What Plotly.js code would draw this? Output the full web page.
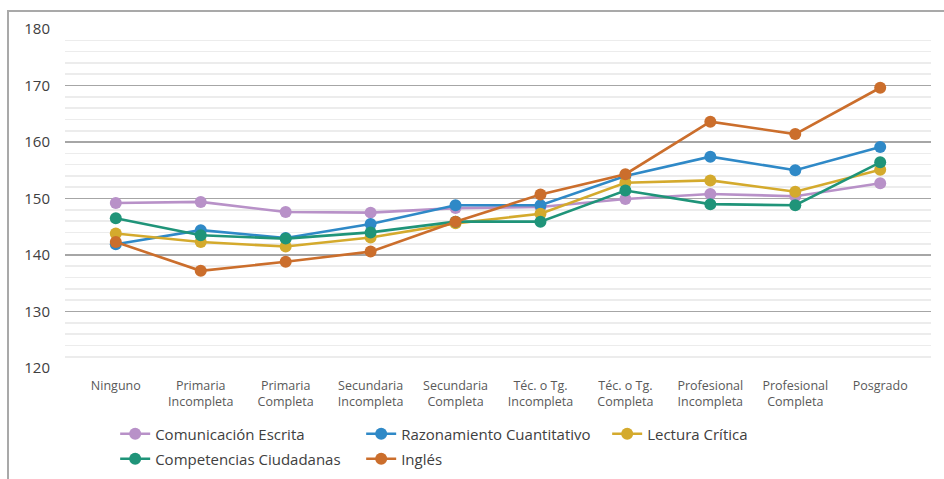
<!DOCTYPE html>
<html>
<head>
<meta charset="utf-8">
<script src="https://cdn.plot.ly/plotly-3.0.1.min.js"></script>
<style>
  html, body { margin: 0; padding: 0; background: #fff; }
  #wrap { position: relative; width: 944px; height: 479px; overflow: hidden; }
  #chart { width: 944px; height: 479px; }
  #frame { position: absolute; left: 7px; top: 10px; width: 1000px; height: 600px;
           border-left: 2px solid #a9a9a9; border-top: 2px solid #a9a9a9; pointer-events: none; }
</style>
</head>
<body>
<div id="wrap"><div id="chart"></div><div id="frame"></div></div>
<script>
const categories = [
  "Ninguno", "Primaria<br>Incompleta", "Primaria<br>Completa", "Secundaria<br>Incompleta",
  "Secundaria<br>Completa", "Téc. o Tg.<br>Incompleta", "Téc. o Tg.<br>Completa",
  "Profesional<br>Incompleta", "Profesional<br>Completa", "Posgrado"
];
const comunicacionEscrita      = [149.2, 149.4, 147.6, 147.5, 148.3, 148.5, 149.9, 150.8, 150.4, 152.7];
const razonamientoCuantitativo = [141.9, 144.4, 143.0, 145.5, 148.8, 148.8, 154.0, 157.4, 155.0, 159.1];
const lecturaCritica           = [143.8, 142.3, 141.5, 143.1, 145.6, 147.3, 152.8, 153.2, 151.2, 155.1];
const competenciasCiudadanas   = [146.5, 143.5, 142.9, 144.0, 145.9, 145.9, 151.4, 149.0, 148.8, 156.4];
const ingles                   = [142.3, 137.2, 138.8, 140.6, 145.9, 150.7, 154.3, 163.6, 161.4, 169.6];
const yTicks = [120, 130, 140, 150, 160, 170, 180];

const seriesNames  = ["Comunicación Escrita", "Razonamiento Cuantitativo", "Lectura Crítica", "Competencias Ciudadanas", "Inglés"];
const seriesValues = [comunicacionEscrita, razonamientoCuantitativo, lecturaCritica, competenciasCiudadanas, ingles];
const seriesColors = ["#b891c8", "#2f89c7", "#d4aa2d", "#1f9479", "#cb6e2c"];
const seriesLegend = ["legend", "legend", "legend", "legend2", "legend2"];

const traces = seriesNames.map((name, i) => ({
  type: "scatter",
  mode: "lines+markers",
  name: name,
  legend: seriesLegend[i],
  x: categories,
  y: seriesValues[i],
  line: { color: seriesColors[i], width: 2.6 },
  marker: { color: seriesColors[i], size: 12 }
}));

const legendCommon = {
  orientation: "h",
  xref: "container", x: 0.122, xanchor: "left",
  yref: "container", yanchor: "top",
  entrywidth: 201,
  entrywidthmode: "pixels",
  font: { size: 15, color: "#404040" },
  itemwidth: 30,
  tracegroupgap: 0,
  bgcolor: "rgba(0,0,0,0)"
};

const layout = {
  width: 944, height: 479,
  margin: { l: 65, r: 13, t: 29, b: 111, autoexpand: false },
  paper_bgcolor: "#ffffff",
  plot_bgcolor: "#ffffff",
  font: { family: "'Open Sans', sans-serif", color: "#404040" },
  showlegend: true,
  hovermode: false,
  xaxis: {
    type: "category",
    tickfont: { size: 12.5, color: "#595959" },
    showgrid: false,
    showline: false,
    zeroline: false,
    ticks: "",
    ticklabelstandoff: 8,
    fixedrange: true
  },
  yaxis: {
    range: [120, 180],
    tickvals: yTicks,
    ticktext: yTicks.map(String),
    tickfont: { size: 15, color: "#404040" },
    showgrid: true,
    gridcolor: "#a6a6a6",
    gridwidth: 1.3,
    zeroline: false,
    showline: false,
    ticks: "",
    ticklabelstandoff: 14,
    minor: { dtick: 2, showgrid: true, gridcolor: "#ececec", gridwidth: 1.6 },
    fixedrange: true
  },
  legend: Object.assign({}, legendCommon, { y: 0.1284 }),
  legend2: Object.assign({}, legendCommon, { y: 0.0762 })
};

Plotly.newPlot("chart", traces, layout, { displayModeBar: false, staticPlot: true });
</script>
</body>
</html>
